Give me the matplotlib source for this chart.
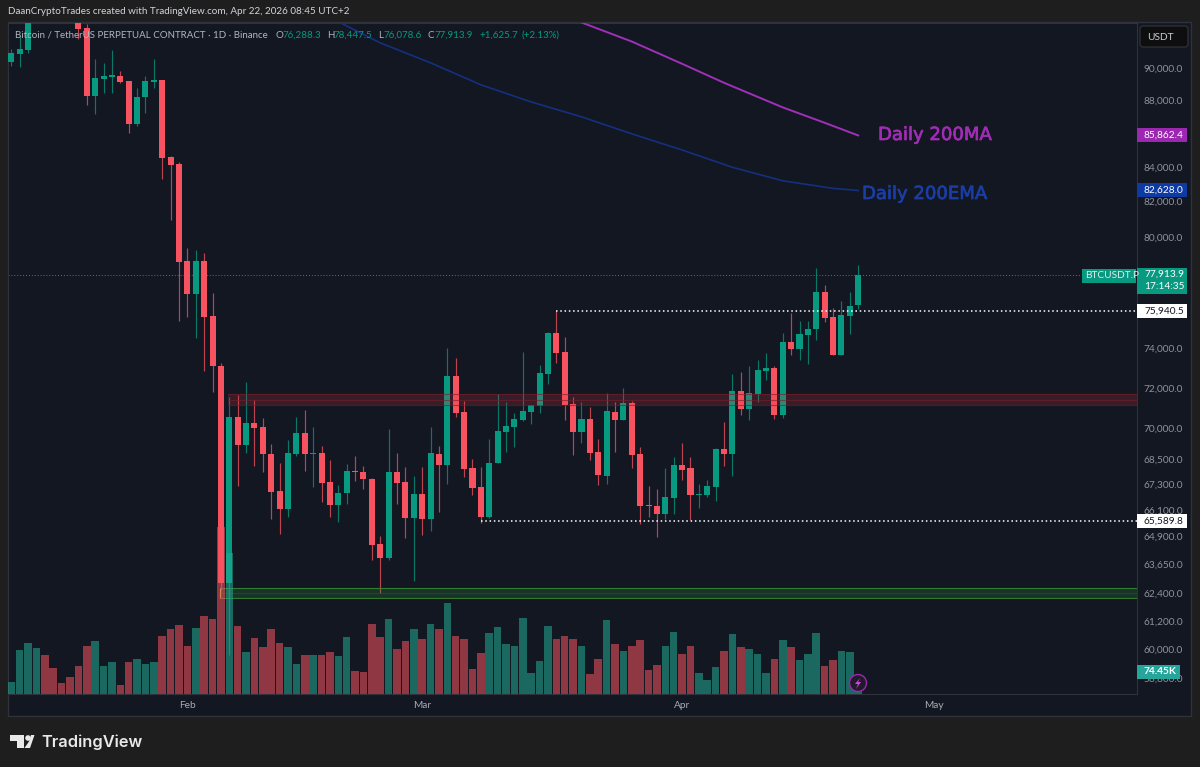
import numpy as np
import matplotlib
matplotlib.use('Agg')
import matplotlib.pyplot as plt
import matplotlib.patheffects as pe
from matplotlib.patches import Rectangle, Polygon, Circle, FancyBboxPatch
from matplotlib.transforms import IdentityTransform

plt.rcParams['font.family'] = ['Lato', 'DejaVu Sans']

W, H = 1200, 767

# daily candles, first one is Jan 11 2026. 3-7 sit above the visible range
open_ = [90370, 90890, 91140, 93600, 95200, 94500, 94000, 93700, 93730, 92540,
	88260, 89330, 89430, 89510, 89160, 86560, 88180, 89120, 89220, 84570,
	84180, 78670, 76870, 78670, 75710, 73110, 62830, 70540, 69170, 70250,
	70070, 68770, 67000, 66180, 68740, 69760, 68740, 68810, 67430, 66340,
	66890, 67930, 67900, 67580, 64580, 63930, 67900, 67430, 65760, 66870,
	65700, 68770, 68220, 72610, 70800, 68060, 67190, 65810, 68310, 69820,
	70070, 70400, 70800, 71090, 72700, 74800, 73840, 71190, 69820, 70440,
	68850, 67720, 70800, 70410, 71260, 68740, 66350, 66300, 65920, 66690,
	68230, 68060, 66800, 66830, 67190, 68990, 68740, 71850, 70960, 71680,
	72870, 73000, 70640, 74340, 73990, 74710, 75010, 77000, 75620, 73650,
	75710, 76288.3]
high = [91200, 92110, 94050, 96000, 96200, 95600, 94800, 94900, 94200, 92820,
	90560, 90310, 91140, 89840, 89200, 88760, 89470, 90560, 89260, 84640,
	84300, 79360, 79270, 79120, 76910, 73280, 71540, 71640, 72270, 71390,
	70490, 69220, 68340, 69430, 70540, 70900, 70080, 69140, 68440, 67290,
	68270, 68660, 68180, 67600, 64930, 69950, 68810, 68150, 67710, 68150,
	70080, 69140, 74010, 73500, 71340, 68500, 68150, 69460, 71690, 71280,
	70740, 73840, 71160, 73160, 74840, 75940, 74590, 71530, 71310, 71030,
	69490, 71760, 71310, 72000, 71350, 69100, 67240, 67090, 68100, 68600,
	69270, 68620, 67330, 67520, 69020, 70280, 72690, 72820, 73080, 73420,
	73760, 73080, 74830, 75880, 75410, 75460, 78270, 77360, 76140, 76510,
	76970, 78447.5]
low = [90140, 90080, 90950, 93200, 94000, 93600, 93400, 93300, 91850, 87710,
	87150, 88430, 88470, 89060, 86000, 86400, 87210, 88760, 83300, 80950,
	75460, 75620, 74540, 72870, 71810, 62530, 59750, 67210, 68810, 68200,
	67870, 65700, 65020, 65790, 68670, 67960, 67180, 66500, 65790, 65560,
	66390, 67460, 67100, 63850, 62390, 63850, 66390, 64830, 62940, 64960,
	65170, 66010, 67320, 70540, 67650, 66810, 65540, 65740, 68310, 68860,
	69100, 70330, 70210, 70770, 72200, 73280, 70410, 68700, 69270, 68470,
	67270, 67330, 68830, 70380, 68060, 65480, 65810, 64900, 65710, 65920,
	67520, 65660, 66200, 66740, 66550, 68180, 67680, 70650, 70410, 71310,
	72400, 70440, 70490, 73680, 73420, 73200, 74450, 75360, 73650, 73650,
	74750, 76078.6]
close = [90930, 91180, 93600, 95200, 94500, 94000, 93700, 93500, 92480, 88260,
	89370, 89470, 89530, 89100, 86560, 88220, 89160, 89220, 84510, 84120,
	78630, 76870, 78670, 75670, 73080, 62830, 70540, 69170, 70250, 70020,
	68740, 66970, 66170, 68790, 69760, 68740, 68800, 67390, 66340, 66910,
	67950, 67870, 67540, 64530, 63940, 67900, 67390, 65760, 66870, 65700,
	68790, 68220, 72610, 70770, 68030, 67140, 65810, 68340, 69870, 70120,
	70460, 70850, 71140, 72740, 74820, 73790, 71130, 69820, 70440, 68800,
	67740, 70820, 70420, 71260, 68700, 66300, 66300, 65920, 66720, 68230,
	68010, 66800, 66870, 67240, 68990, 68740, 71850, 70960, 71730, 72910,
	73000, 70640, 74340, 73990, 74760, 75040, 77000, 75570, 73650, 75760,
	76230, 77913.9]
volume_k = [47, 171, 200, 180, 152, 102, 43, 67, 109, 188,
	208, 109, 125, 34, 125, 136, 118, 125, 227, 254,
	269, 188, 260, 306, 293, 655, 553, 267, 165, 220,
	184, 255, 200, 184, 116, 152, 152, 152, 165, 149,
	223, 90, 86, 274, 223, 294, 176, 208, 255, 216,
	274, 255, 356, 227, 214, 97, 160, 238, 263, 195,
	188, 299, 82, 129, 267, 217, 227, 217, 188, 77,
	136, 289, 197, 169, 188, 210, 93, 113, 188, 243,
	158, 188, 82, 54, 106, 169, 234, 184, 178, 158,
	82, 136, 213, 184, 132, 158, 240, 109, 132, 169,
	165, 74.45]

ma_days = [68, 74, 80, 85, 92, 97, 101]
ma_200 = [92905, 91676, 90263, 89075, 87560, 86624, 85862.4]
ema_days = [39, 44, 50, 56, 62, 68, 74, 80, 86, 92, 98, 101]
ema_200 = [92951, 91592, 90325, 88950, 87892, 86986, 85959, 84995, 83975, 83188, 82750, 82628]

price_ticks = [90000, 88000, 86000, 84000, 82000, 80000, 78000, 76000, 74000, 72000, 70000,
	68500, 67300, 66100, 64900, 63650, 62400, 61200, 60000, 58800]
month_days = [21, 49, 80, 110]
month_names = ['Feb', 'Mar', 'Apr', 'May']

UP = '#089981'
DOWN = '#f7525f'
BG = '#131722'
FRAME = '#1e1e1e'
LINE = '#2f323a'
TICK = '#8f929b'
PURPLE = '#9c27b0'
BLUE = '#0d3aa5'
FS = 7.3
FS_TOP = 7.0


def pt(x, y):
	# image pixels to figure fractions
	return x / W, 1 - y / H


def to_disp(pts):
	return np.array(pts) * [1, -1] + [0, H]


def ftext(x, y, s, **kw):
	kw.setdefault('va', 'center')
	kw.setdefault('size', FS_TOP)
	return fig.text(*pt(x, y), s, **kw)


def value_label(price, text, bg, fg, width=50, sub=None, weight='normal'):
	# coloured tag on the price scale, placed from the price itself
	yd = ax.transData.transform((0, price))[1]
	height = 26 if sub else 14
	fig.add_artist(Rectangle((1137, yd + 7 - height), width, height, facecolor=bg,
		edgecolor='none', transform=IdentityTransform(), zorder=2))
	fig.text(1144, yd, text, color=fg, size=FS, va='center', weight=weight,
		transform=IdentityTransform(), zorder=3)
	if sub:
		fig.text(1144, yd - 12, sub, color=fg, size=FS, va='center', weight=weight,
			transform=IdentityTransform(), zorder=3)


fig = plt.figure(figsize=(W / 100, H / 100), dpi=100, facecolor=FRAME)

# chart frame incl. the price scale column
fig.add_artist(Rectangle(pt(8, 716), 1183 / W, 694 / H, facecolor=BG, edgecolor=LINE,
	linewidth=1, transform=fig.transFigure, zorder=-1))

rect = [8 / W, 1 - 694 / H, 1129 / W, 671 / H]
ax = fig.add_axes(rect, facecolor=BG, zorder=0)
ax.set_yscale('log')
ax.set_xlim(-0.394, 134.25)
ax.set_ylim(58150, 92870)

days = np.arange(len(open_))
o = np.array(open_)
c = np.array(close)
colors = [UP if b >= a else DOWN for a, b in zip(open_, close)]

ax.axhline(close[-1], color=UP, lw=0.7, ls=(0, (1, 2)), zorder=1)

# candles
ax.vlines(days, low, high, color=colors, lw=0.85, alpha=0.75, zorder=2)
ax.bar(days, np.abs(c - o), bottom=np.minimum(o, c), width=0.72, color=colors, zorder=3)

# levels sit over the candles
ax.add_patch(Rectangle((25.85, 71144), 108.4, 71668 - 71144, facecolor='#f23645', alpha=0.17, edgecolor='none', zorder=4))
ax.hlines([71144, 71400, 71668], 25.85, 134.25, color='#7a1c2c', lw=0.8, alpha=0.6, zorder=4)
ax.add_patch(Rectangle((24.9, 62178), 109.4, 62619 - 62178, facecolor='#2e9e3a', alpha=0.22, edgecolor='none', zorder=4))
ax.hlines([62619, 62178], 24.9, 134.25, color='#3a8a32', lw=0.8, alpha=0.85, zorder=4)
ax.hlines(62400, 24.9, 134.25, color='#2e7d32', lw=0.5, alpha=0.4, zorder=4)
ax.vlines(24.9, 62178, 62619, color='#c9b84a', lw=0.8, zorder=4)

ax.hlines(75940.5, 65, 134.25, color='white', lw=1.1, ls=(0, (1, 1.8)), zorder=5)
ax.hlines(65589.8, 56, 134.25, color='white', lw=1.1, ls=(0, (1, 1.8)), zorder=5)

ax.plot(ma_days, ma_200, color='#a030b8', lw=1.4, zorder=4)
ax.plot(ema_days, ema_200, color='#14307f', lw=1.2, zorder=4)

ax.yaxis.tick_right()
ax.set_yticks(price_ticks)
ax.set_yticklabels([f'{t:,.1f}' for t in price_ticks])
ax.minorticks_off()
ax.tick_params(axis='y', length=0, pad=5, labelcolor=TICK, labelsize=FS)
ax.set_xticks(month_days)
ax.set_xticklabels(month_names)
ax.tick_params(axis='x', length=0, pad=5, labelcolor='#a8abb4', labelsize=FS)
for side in ax.spines:
	ax.spines[side].set_color(LINE)
	ax.spines[side].set_linewidth(0.8)

# volume pane, same width, own scale
ax_vol = fig.add_axes(rect, facecolor='none', zorder=0.5)
ax_vol.set_xlim(ax.get_xlim())
ax_vol.set_ylim(0, 671 * 3.92)
vol_colors = ['#22ab94' if b >= a else '#f7525f' for a, b in zip(open_, close)]
ax_vol.bar(days, volume_k, width=0.9, color=vol_colors, alpha=0.55, linewidth=0)
ax_vol.axis('off')

# header and legend
ftext(8, 12, 'DaanCryptoTrades created with TradingView.com, Apr 22, 2026 08:45 UTC+2', color='#d1d4dc', size=7.15)
ftext(15, 35, 'Bitcoin / TetherUS PERPETUAL CONTRACT · 1D · Binance', color='#b2b5be')
for x, s in [(275, 'O'), (327, 'H'), (378, 'L'), (428, 'C')]:
	ftext(x, 35, s, color='#b2b5be')
for x, s in [(282, '76,288.3'), (333, '78,447.5'), (383, '76,078.6'), (434, '77,913.9'),
		(479, '+1,625.7'), (521, '(+2.13%)')]:
	ftext(x, 35, s, color=UP)

# notes on the lines
stroke = lambda col: [pe.withStroke(linewidth=0.5, foreground=col)]
ftext(878, 135, 'Daily 200MA', color='#a12cb6', size=13, family='DejaVu Sans', path_effects=stroke('#a12cb6'))
ftext(862, 194, 'Daily 200EMA', color='#1a3da6', size=13, family='DejaVu Sans', path_effects=stroke('#1a3da6'))

# price scale tags
value_label(ma_200[-1], '85,862.4', PURPLE, 'white')
value_label(ema_200[-1], '82,628.0', BLUE, 'white')
value_label(close[-1], '77,913.9', UP, 'white', sub='17:14:35')
value_label(75940.5, '75,940.5', 'white', '#131722')
value_label(65589.8, '65,589.8', 'white', '#131722')
value_label(59050, '74.45K', '#26a69a', 'white', width=43, weight='bold')

fig.add_artist(Rectangle(pt(1082, 283), 54 / W, 14 / H, facecolor=UP, edgecolor='none',
	transform=fig.transFigure, zorder=2))
ftext(1085, 276, 'BTCUSDT.P', color='#d8f0ea', size=FS, zorder=3)

# USDT button
fig.add_artist(FancyBboxPatch((1142, H - 45), 44, 17, boxstyle='round,pad=2,rounding_size=3',
	facecolor='#0e0e0e', edgecolor='#34363c', linewidth=0.8, transform=IdentityTransform(), zorder=2))
ftext(1147, 37, 'USDT', color='#c9ccd3', size=FS, zorder=3)

# alert icon on the last volume bar
fig.add_artist(Circle((858, H - 683), 8.5, facecolor='#221a2c', edgecolor=PURPLE, linewidth=1,
	transform=IdentityTransform(), zorder=2))
fig.add_artist(Polygon(to_disp([[860, 678], [855, 684], [858, 684], [856, 689], [861, 682], [858, 682]]),
	closed=True, facecolor='#c44ed8', edgecolor='none', transform=IdentityTransform(), zorder=3))

# TradingView logo
logo = dict(facecolor='#e9e9e9', edgecolor='none', transform=IdentityTransform(), zorder=3)
fig.add_artist(Polygon(to_disp([(10, 735), (23.5, 735), (23.5, 748), (17, 748), (17, 741), (10, 741)]), closed=True, **logo))
fig.add_artist(Circle((28, H - 738), 2.8, **logo))
fig.add_artist(Polygon(to_disp([(34.5, 735), (30, 748), (24.5, 748), (29, 741.5), (31, 735)]), closed=True, **logo))
ftext(41, 742, 'TradingView', color='#e9e9e9', size=11.8, family='Inter', weight='semibold')

fig.savefig('out.png', dpi=100, facecolor=FRAME)
